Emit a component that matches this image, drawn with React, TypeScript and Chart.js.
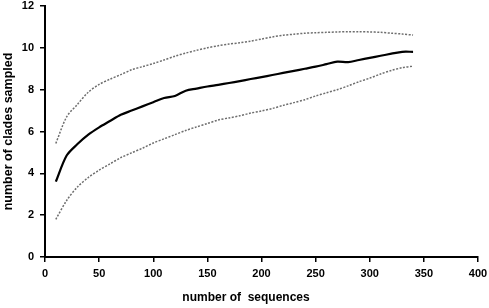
import React, { useEffect, useRef } from "react";
import { Chart, registerables } from "chart.js";

Chart.register(...registerables);

const sequences = [10, 20, 30, 40, 50, 60, 70, 80, 90, 100, 110, 120, 130, 140, 150, 160, 170, 180, 190, 200, 210, 220, 230, 240, 250, 260, 270, 280, 290, 300, 310, 320, 330, 340];
const meanClades = [3.6, 4.85, 5.4, 5.85, 6.2, 6.5, 6.8, 7.0, 7.2, 7.4, 7.6, 7.7, 7.95, 8.05, 8.15, 8.23, 8.32, 8.41, 8.51, 8.6, 8.7, 8.8, 8.9, 9.0, 9.1, 9.22, 9.34, 9.32, 9.42, 9.52, 9.62, 9.72, 9.81, 9.81];
const upperClades = [5.43, 6.7, 7.3, 7.88, 8.25, 8.5, 8.72, 8.95, 9.1, 9.25, 9.42, 9.6, 9.75, 9.88, 10.0, 10.1, 10.18, 10.24, 10.32, 10.42, 10.52, 10.6, 10.65, 10.7, 10.72, 10.74, 10.76, 10.77, 10.77, 10.76, 10.74, 10.7, 10.66, 10.61];
const lowerClades = [1.8, 2.7, 3.35, 3.8, 4.15, 4.45, 4.75, 4.98, 5.2, 5.45, 5.65, 5.85, 6.05, 6.22, 6.38, 6.55, 6.65, 6.75, 6.88, 6.98, 7.1, 7.25, 7.38, 7.52, 7.7, 7.85, 8.0, 8.18, 8.38, 8.55, 8.75, 8.92, 9.05, 9.12];

const xTitle = "number of  sequences";
const yTitle = "number of clades sampled";

const toPoints = (ys: number[]) => sequences.map((x, i) => ({ x, y: ys[i] }));

const FAMILY = "'Liberation Sans', Arial, sans-serif";

const xTitlePlugin = {
  id: "xTitlePlugin",
  afterDraw(chart: any) {
    const c = chart.ctx;
    c.save();
    c.font = `bold 12px ${FAMILY}`;
    c.fillStyle = "#000";
    c.textAlign = "center";
    c.textBaseline = "middle";
    c.fillText(xTitle, 246, 298);
    c.restore();
  },
};

export default function App() {
  const ref = useRef<HTMLCanvasElement | null>(null);
  useEffect(() => {
    document.body.style.margin = "0";
    const ctx = ref.current!.getContext("2d")!;
    const font = { family: FAMILY, size: 11, weight: "bold" as const };
    const dotted = {
      borderColor: "#6e6e6e",
      borderWidth: 1.5,
      borderDash: [2, 1.5],
      pointRadius: 0,
      tension: 0.3,
      fill: false,
    };
    const chart = new Chart(ctx, {
      type: "line",
      data: {
        datasets: [
          { data: toPoints(upperClades), ...dotted },
          {
            data: toPoints(meanClades),
            borderColor: "#000000",
            borderWidth: 2.2,
            pointRadius: 0,
            tension: 0.3,
            fill: false,
          },
          { data: toPoints(lowerClades), ...dotted },
        ],
      },
      options: {
        animation: false,
        responsive: false,
        layout: { padding: { top: 6, right: 11, left: 0, bottom: 0 } },
        plugins: { legend: { display: false }, tooltip: { enabled: false } },
        scales: {
          x: {
            type: "linear",
            min: 0,
            max: 400,
            ticks: { stepSize: 50, color: "#000", font, padding: 5, maxRotation: 0 },
            grid: { display: true, drawOnChartArea: false, drawTicks: true, tickLength: 5, color: "#000", lineWidth: 1.5 },
            border: { display: true, color: "#000", width: 2 },
            title: { display: false },
            afterFit: (s: any) => { s.height = 51; s.paddingLeft = 0; s.paddingRight = 0; },
          },
          y: {
            min: 0,
            max: 12,
            ticks: { stepSize: 2, color: "#000", font, padding: 6 },
            grid: { display: true, drawOnChartArea: false, drawTicks: true, tickLength: 5, color: "#000", lineWidth: 1.5 },
            border: { display: true, color: "#000", width: 2 },
            title: { display: true, text: yTitle, color: "#000", font: { family: FAMILY, size: 12.5, weight: "bold" as const }, padding: { top: 1.5, bottom: 4 } },
            afterFit: (s: any) => { s.width = 45; s.paddingTop = 0; s.paddingBottom = 0; },
          },
        },
      },
      plugins: [xTitlePlugin],
    });
    return () => chart.destroy();
  }, []);
  return (
    <div style={{ width: 489, height: 308 }}>
      <canvas ref={ref} width={489} height={308} style={{ display: "block", width: 489, height: 308 }} />
    </div>
  );
}
